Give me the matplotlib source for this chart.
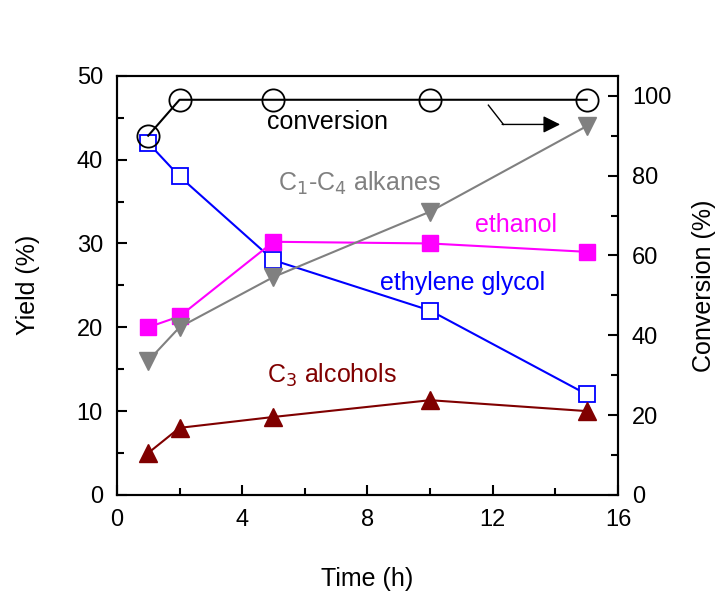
import matplotlib
matplotlib.use('Agg')
import matplotlib.pyplot as plt

plt.rcParams['font.family'] = ['Liberation Sans', 'DejaVu Sans']

# data
time_h = [1, 2, 5, 10, 15]
conversion = [90, 99, 99, 99, 99]
ethylene_glycol = [42, 38, 28, 22, 12]
ethanol = [20, 21.3, 30.2, 30, 29]
alkanes = [16, 20, 26, 33.8, 44]
c3_alcohols = [5, 8, 9.3, 11.3, 10]

fig = plt.figure(figsize=(7.17, 5.97), dpi=100)
ax = fig.add_axes([0.163, 0.171, 0.699, 0.702])
ax2 = ax.twinx()

ms_sq = 12
ms_tri = 13
lw = 1.5
ax.plot(time_h, ethylene_glycol, '-s', color='#0000ff', mfc='white', mec='#0000ff', ms=ms_sq, lw=lw, mew=1.3, zorder=3)
ax.plot(time_h, ethanol, '-s', color='#ff00ff', ms=ms_sq, lw=lw, zorder=3)
ax.plot(time_h, alkanes, '-v', color='#808080', ms=ms_tri, lw=lw, zorder=3)
ax.plot(time_h, c3_alcohols, '-^', color='#800000', ms=ms_tri, lw=lw, zorder=3)
ax2.plot(time_h, conversion, '-o', color='black', mfc='none', ms=16, lw=lw, mew=1.3)

ax.set_xlim(0, 16)
ax.set_ylim(0, 50)
ax2.set_ylim(0, 105)
ax.set_xticks([0, 4, 8, 12, 16])
ax.set_xticks([2, 6, 10, 14], minor=True)
ax.set_yticks([0, 10, 20, 30, 40, 50])
ax.set_yticks([5, 15, 25, 35, 45], minor=True)
ax2.set_yticks([0, 20, 40, 60, 80, 100])
ax2.set_yticks([10, 30, 50, 70, 90], minor=True)

for a in (ax, ax2):
    for s in a.spines.values():
        s.set_linewidth(1.5)
    a.tick_params(which='both', direction='in', width=1.5, labelsize=17, pad=10)
    a.tick_params(which='major', length=7)
    a.tick_params(which='minor', length=5)
ax.tick_params(which='both', top=False, right=False)
ax2.tick_params(which='both', left=False, top=False, right=True)

ax.set_xlabel('Time (h)', fontsize=18)
ax.set_ylabel('Yield (%)', fontsize=18)
ax2.set_ylabel('Conversion (%)', fontsize=18)
ax.xaxis.set_label_coords(0.5, -0.172)
ax.yaxis.set_label_coords(-0.153, 0.5)
ax2.yaxis.set_label_coords(1.148, 0.5)

# curve labels
ax.text(6.72, 44.5, 'conversion', color='black', fontsize=18, ha='center', va='center')
ax.text(7.73, 37.2, 'C$_1$-C$_4$ alkanes', color='#808080', fontsize=18, ha='center', va='center')
ax.text(12.73, 32.2, 'ethanol', color='#ff00ff', fontsize=18, ha='center', va='center')
ax.text(11.03, 25.3, 'ethylene glycol', color='#0000ff', fontsize=18, ha='center', va='center')
ax.text(6.88, 14.3, 'C$_3$ alcohols', color='#800000', fontsize=18, ha='center', va='center')

# arrow pointing to the conversion axis
ax.plot([11.86, 12.34], [46.5, 44.2], color='black', lw=1)
ax.annotate('', xy=[14.15, 44.2], xytext=[12.3, 44.2],
            arrowprops=dict(arrowstyle='-|>', color='black', lw=1, mutation_scale=26, shrinkA=0, shrinkB=0))

fig.savefig('out.png', dpi=100)
